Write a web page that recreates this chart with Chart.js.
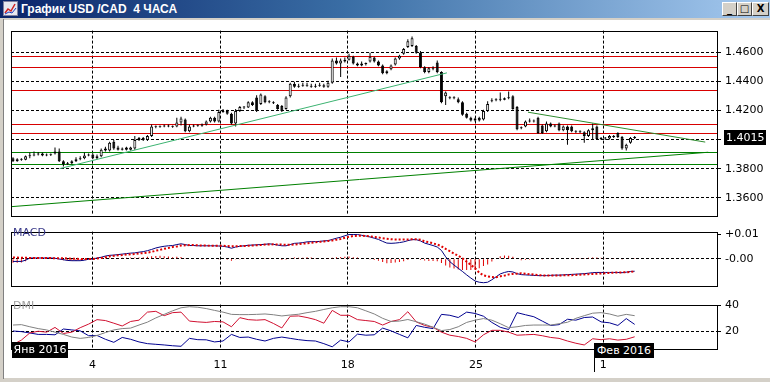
<!DOCTYPE html>
<html><head><meta charset="utf-8">
<script src="https://cdn.jsdelivr.net/npm/chart.js@4"></script>
<style>
body{margin:0;width:770px;height:382px;overflow:hidden;background:#d4d0c8;font-family:"DejaVu Sans",sans-serif;position:relative;}
#title{position:absolute;left:0;top:0;width:770px;height:18px;background:linear-gradient(90deg,#0a246a 0%,#3a6ea5 45%,#a6caf0 100%);}
#title .t{position:absolute;left:21px;top:2px;color:#fff;font:bold 12px "Liberation Sans",sans-serif;white-space:pre;line-height:14px;}
#title svg{position:absolute;left:3px;top:1px;}
.btn{position:absolute;top:2px;height:12px;background:#d4d0c8;border:1px solid;border-color:#fff #404040 #404040 #fff;font:bold 10px "DejaVu Sans",sans-serif;color:#000;text-align:center;line-height:12px;}
#area{position:absolute;left:4px;top:20px;width:766px;height:358px;background:#fff;}
#edge{position:absolute;left:3px;top:19px;width:1px;height:360px;background:#808080;}
canvas{position:absolute;left:0;}
.lab{position:absolute;font:11px "DejaVu Sans",sans-serif;white-space:pre;z-index:5;}
.box{position:absolute;background:#000;color:#fff;font:11px "DejaVu Sans",sans-serif;text-align:center;z-index:5;white-space:pre;}
</style></head>
<body>
<div id="title">
<svg width="15" height="15" viewBox="0 0 15 15"><rect x="0.5" y="0.5" width="14" height="14" fill="#e8e8f0" stroke="#8080a0"/><polyline points="2,12 5,8 8,10 12,3" fill="none" stroke="#d02020" stroke-width="1.5"/><polyline points="2,13 6,11 9,12 13,7" fill="none" stroke="#2040c0" stroke-width="1"/></svg>
<div class="t">График USD /CAD  4 ЧАСА</div>
<div class="btn" style="left:722px;width:13px;">_</div>
<div class="btn" style="left:737px;width:13px;">□</div>
<div class="btn" style="left:752px;width:15px;">X</div>
</div>
<div id="edge"></div>
<div id="area"></div>
<canvas id="c1" width="770" height="206" style="top:20px"></canvas>
<canvas id="c2" width="770" height="75" style="top:221px"></canvas>
<canvas id="c3" width="770" height="84" style="top:294px"></canvas>
<div class="lab" style="left:13px;top:226px;color:#3a3a8a;">MACD</div>
<div class="lab" style="left:13px;top:299px;color:#a0a0a0;">DMI</div>
<div class="box" style="left:12px;top:342px;width:56px;height:16px;line-height:16px;">Янв 2016</div>
<div class="box" style="left:594px;top:343px;width:60px;height:15px;line-height:15px;">Фев 2016</div>
<div style="position:absolute;left:594px;top:357px;width:1px;height:15px;background:#000;z-index:5;"></div>
<script>
// ---------- data ----------
const opens = [
1.3871,1.3851,1.3865,1.3862,1.3885,1.3891,1.3898,1.3905,1.3891,1.3898,
1.3905,1.3918,1.3851,1.3831,1.3838,1.3851,1.3865,1.3871,1.3891,1.3898,
1.3871,1.3885,1.3938,1.3925,1.3985,1.3945,1.3931,1.3945,1.3931,1.3938,
1.3998,1.4011,1.3998,1.4025,1.4091,1.4088,1.4091,1.4098,1.4091,1.4091,
1.4118,1.4138,1.4058,1.4091,1.4098,1.4095,1.4105,1.4125,1.4151,1.4125,
1.4191,1.4198,1.4178,1.4111,1.4198,1.4225,1.4222,1.4258,1.4291,1.4245,
1.4298,1.4265,1.4258,1.4238,1.4231,1.4211,1.4298,1.4385,1.4365,1.4371,
1.4375,1.4371,1.4365,1.4371,1.4375,1.4365,1.4391,1.4545,1.4525,1.4538,
1.4551,1.4571,1.4525,1.4511,1.4525,1.4538,1.4565,1.4538,1.4511,1.4458,
1.4485,1.4518,1.4558,1.4591,1.4638,1.4645,1.4645,1.4598,1.4498,1.4465,
1.4491,1.4531,1.4465,1.4298,1.4285,1.4285,1.4278,1.4258,1.4178,1.4151,
1.4131,1.4151,1.4138,1.4198,1.4265,1.4271,1.4278,1.4275,1.4285,1.4298,
1.4225,1.4078,1.4091,1.4125,1.4131,1.4151,1.4098,1.4058,1.4111,1.4091,
1.4111,1.4065,1.4091,1.4091,1.4058,1.4055,1.4051,1.4025,1.4065,1.4091,
1.4005,1.4011,1.4008,1.4025,1.4045,1.4018,1.3938,1.3978,1.4011];
const highs = [
1.3878,1.3871,1.3872,1.3891,1.3911,1.3918,1.3915,1.3911,1.3905,1.3905,
1.3945,1.3938,1.3858,1.3845,1.3858,1.3878,1.3885,1.3911,1.3905,1.3905,
1.3898,1.3938,1.3951,1.3985,1.3998,1.3958,1.3945,1.3951,1.3951,1.4025,
1.4018,1.4018,1.4031,1.4105,1.4098,1.4098,1.4105,1.4105,1.4098,1.4151,
1.4158,1.4145,1.4105,1.4105,1.4105,1.4111,1.4131,1.4158,1.4158,1.4205,
1.4211,1.4205,1.4185,1.4211,1.4231,1.4231,1.4265,1.4265,1.4305,1.4318,
1.4305,1.4271,1.4265,1.4245,1.4238,1.4298,1.4391,1.4398,1.4385,1.4391,
1.4391,1.4385,1.4385,1.4391,1.4385,1.4405,1.4558,1.4565,1.4558,1.4565,
1.4591,1.4578,1.4531,1.4538,1.4531,1.4598,1.4571,1.4545,1.4518,1.4478,
1.4518,1.4565,1.4585,1.4631,1.4691,1.4711,1.4651,1.4611,1.4505,1.4498,
1.4505,1.4545,1.4471,1.4331,1.4298,1.4298,1.4291,1.4265,1.4185,1.4158,
1.4151,1.4158,1.4205,1.4265,1.4285,1.4285,1.4325,1.4291,1.4331,1.4305,
1.4231,1.4091,1.4131,1.4145,1.4138,1.4158,1.4105,1.4125,1.4118,1.4105,
1.4118,1.4098,1.4098,1.4098,1.4065,1.4065,1.4058,1.4071,1.4111,1.4098,
1.4018,1.4018,1.4031,1.4031,1.4051,1.4025,1.3971,1.4018,1.4025];
const lows = [
1.3845,1.3848,1.3855,1.3858,1.3871,1.3885,1.3891,1.3885,1.3885,1.3888,
1.3898,1.3845,1.3815,1.3825,1.3831,1.3845,1.3858,1.3865,1.3885,1.3865,
1.3865,1.3878,1.3918,1.3918,1.3931,1.3925,1.3925,1.3925,1.3925,1.3931,
1.3991,1.3991,1.3991,1.4018,1.4078,1.4081,1.4085,1.4085,1.4081,1.4085,
1.4098,1.4051,1.4051,1.4085,1.4088,1.4088,1.4098,1.4118,1.4118,1.4118,
1.4185,1.4171,1.4105,1.4091,1.4191,1.4211,1.4218,1.4231,1.4191,1.4238,
1.4251,1.4251,1.4245,1.4205,1.4191,1.4205,1.4291,1.4358,1.4358,1.4365,
1.4365,1.4358,1.4358,1.4365,1.4358,1.4358,1.4385,1.4518,1.4431,1.4531,
1.4545,1.4518,1.4505,1.4505,1.4511,1.4531,1.4531,1.4505,1.4451,1.4451,
1.4478,1.4511,1.4551,1.4585,1.4631,1.4638,1.4591,1.4491,1.4458,1.4458,
1.4478,1.4458,1.4251,1.4238,1.4278,1.4278,1.4251,1.4165,1.4145,1.4125,
1.4125,1.4125,1.4131,1.4191,1.4258,1.4265,1.4265,1.4271,1.4278,1.4205,
1.4065,1.4071,1.4085,1.4118,1.4118,1.4038,1.4038,1.4051,1.4085,1.4085,
1.4058,1.4058,1.3965,1.4051,1.4045,1.4045,1.3978,1.4018,1.3998,1.3998,
1.3998,1.3998,1.4001,1.4011,1.4011,1.3931,1.3925,1.3971,1.4005];
const closes = [
1.3851,1.3865,1.3862,1.3885,1.3891,1.3898,1.3905,1.3891,1.3898,1.3895,
1.3918,1.3851,1.3831,1.3838,1.3851,1.3865,1.3871,1.3891,1.3898,1.3871,
1.3885,1.3931,1.3925,1.3978,1.3938,1.3931,1.3938,1.3931,1.3945,1.3998,
1.4011,1.3998,1.4025,1.4091,1.4088,1.4091,1.4098,1.4091,1.4088,1.4118,
1.4145,1.4058,1.4091,1.4098,1.4095,1.4105,1.4125,1.4151,1.4125,1.4191,
1.4198,1.4178,1.4111,1.4198,1.4225,1.4222,1.4258,1.4238,1.4198,1.4311,
1.4258,1.4258,1.4251,1.4211,1.4198,1.4291,1.4385,1.4365,1.4371,1.4375,
1.4371,1.4365,1.4371,1.4375,1.4365,1.4391,1.4545,1.4525,1.4545,1.4551,
1.4578,1.4525,1.4511,1.4525,1.4521,1.4571,1.4538,1.4511,1.4458,1.4471,
1.4511,1.4558,1.4578,1.4625,1.4678,1.4698,1.4598,1.4498,1.4465,1.4491,
1.4488,1.4465,1.4258,1.4325,1.4285,1.4288,1.4258,1.4171,1.4151,1.4131,
1.4145,1.4131,1.4198,1.4245,1.4271,1.4278,1.4275,1.4285,1.4291,1.4211,
1.4071,1.4085,1.4125,1.4131,1.4125,1.4045,1.4045,1.4111,1.4091,1.4098,
1.4065,1.4091,1.4065,1.4058,1.4055,1.4051,1.4025,1.4065,1.4078,1.4005,
1.4011,1.4008,1.4025,1.4018,1.4018,1.3938,1.3965,1.4011,1.4015];

const weekPos = [18.9, 49.4, 79.7, 110.2, 140.5];   // bar position of each Monday
const weekLabels = ['4', '11', '18', '25', '1'];
const priceTicks = [1.36, 1.38, 1.40, 1.42, 1.44, 1.46];
const redLevels = [1.4578, 1.4500, 1.4345, 1.4111, 1.4049];
const greenLevels = [1.3916, 1.3833];
const trendLong = [[-0.5, 1.3538], [165.5, 1.3913]];
const trendUp = [[11.1, 1.3800], [103.3, 1.4460]];
const trendDown = [[122.6, 1.4189], [164.8, 1.3983]];

const macdMain = [
-0.0011,-0.0011,-0.0011,-0.0006,0.0003,0.0003,0.0003,0.0003,0.0003,0.0003,
0.0002,-0.0001,-0.0004,-0.0007,-0.0008,-0.0008,-0.0008,-0.0006,-0.0002,-0.0001,
0.0003,0.0006,0.0011,0.0014,0.0015,0.0017,0.0019,0.0021,0.0023,0.0024,
0.0027,0.0029,0.0033,0.0038,0.0044,0.0048,0.0051,0.0053,0.0054,0.0058,
0.0061,0.0058,0.0054,0.0054,0.0053,0.0053,0.0053,0.0053,0.0053,0.0052,
0.0051,0.0048,0.0043,0.0048,0.0051,0.0053,0.0055,0.0056,0.0057,0.0058,
0.0059,0.0061,0.0059,0.0056,0.0053,0.0053,0.0058,0.0063,0.0064,0.0066,
0.0069,0.0070,0.0070,0.0071,0.0073,0.0074,0.0079,0.0084,0.0088,0.0094,
0.0099,0.0099,0.0099,0.0096,0.0093,0.0089,0.0084,0.0079,0.0071,0.0064,
0.0063,0.0064,0.0066,0.0069,0.0074,0.0078,0.0078,0.0073,0.0064,0.0059,
0.0054,0.0048,0.0034,0.0008,-0.0012,-0.0026,-0.0039,-0.0052,-0.0066,-0.0079,
-0.0091,-0.0096,-0.0098,-0.0096,-0.0086,-0.0074,-0.0062,-0.0056,-0.0052,-0.0054,
-0.0061,-0.0065,-0.0066,-0.0067,-0.0068,-0.0069,-0.0069,-0.0069,-0.0068,-0.0067,
-0.0067,-0.0066,-0.0065,-0.0064,-0.0063,-0.0062,-0.0061,-0.0059,-0.0057,-0.0056,
-0.0056,-0.0056,-0.0056,-0.0056,-0.0056,-0.0057,-0.0055,-0.0052,-0.0051];
const macdSignal = [
0.0005,0.0005,0.0004,0.0004,0.0003,0.0003,0.0003,0.0003,0.0003,0.0003,
0.0002,0.0002,0.0002,0.0001,0.0000,0.0000,-0.0001,-0.0001,-0.0001,-0.0001,
0.0001,0.0003,0.0006,0.0010,0.0012,0.0014,0.0015,0.0017,0.0018,0.0019,
0.0022,0.0023,0.0025,0.0028,0.0033,0.0036,0.0041,0.0044,0.0048,0.0050,
0.0054,0.0055,0.0056,0.0056,0.0055,0.0054,0.0054,0.0053,0.0053,0.0053,
0.0053,0.0052,0.0051,0.0051,0.0052,0.0052,0.0053,0.0054,0.0055,0.0056,
0.0058,0.0058,0.0059,0.0058,0.0058,0.0057,0.0057,0.0058,0.0060,0.0062,
0.0063,0.0065,0.0067,0.0069,0.0071,0.0073,0.0075,0.0078,0.0081,0.0086,
0.0090,0.0093,0.0094,0.0094,0.0093,0.0092,0.0089,0.0087,0.0084,0.0082,
0.0080,0.0079,0.0079,0.0079,0.0079,0.0080,0.0080,0.0078,0.0071,0.0068,
0.0063,0.0058,0.0051,0.0040,0.0031,0.0021,0.0012,0.0002,-0.0012,-0.0025,
-0.0039,-0.0057,-0.0068,-0.0072,-0.0075,-0.0076,-0.0072,-0.0069,-0.0064,-0.0062,
-0.0061,-0.0059,-0.0061,-0.0063,-0.0065,-0.0067,-0.0068,-0.0069,-0.0069,-0.0069,
-0.0069,-0.0068,-0.0067,-0.0067,-0.0066,-0.0065,-0.0064,-0.0063,-0.0062,-0.0061,
-0.0060,-0.0059,-0.0058,-0.0057,-0.0056,-0.0056,-0.0055,-0.0054,-0.0052];
const macdHist = [
-0.0016,-0.0016,-0.0015,-0.0010,0,0,0,0,0,0,
0,-0.0003,-0.0006,-0.0008,-0.0008,-0.0008,-0.0007,-0.0005,-0.0001,0,
0.0002,0.0003,0.0005,0.0004,0.0003,0.0003,0.0004,0.0004,0.0005,0.0005,
0.0005,0.0006,0.0008,0.0010,0.0011,0.0012,0.0010,0.0009,0.0006,0.0008,
0.0007,0.0003,-0.0002,-0.0002,-0.0002,-0.0001,-0.0001,0,0,-0.0001,
-0.0002,-0.0004,-0.0008,-0.0003,-0.0001,0.0001,0.0002,0.0002,0.0002,0.0002,
0.0001,0.0003,0,-0.0002,-0.0005,-0.0004,0.0001,0.0005,0.0004,0.0004,
0.0006,0.0005,0.0003,0.0002,0.0002,0.0001,0.0004,0.0006,0.0007,0.0008,
0.0009,0.0006,0.0005,0.0002,0,-0.0003,-0.0005,-0.0008,-0.0013,-0.0018,
-0.0017,-0.0015,-0.0013,-0.0010,-0.0005,-0.0002,-0.0002,-0.0005,-0.0007,-0.0009,
-0.0009,-0.0010,-0.0017,-0.0028,-0.0036,-0.0040,-0.0044,-0.0046,-0.0046,-0.0046,
-0.0045,-0.0039,-0.0030,-0.0024,-0.0011,-0.0002,0.0010,0.0013,0.0012,0.0008,
0,-0.0006,-0.0005,-0.0004,-0.0003,-0.0002,-0.0001,0,0.0001,0.0002,
0.0002,0.0002,0.0002,0.0003,0.0003,0.0003,0.0003,0.0004,0.0005,0.0005,
0.0004,0.0003,0.0002,0.0001,0,-0.0001,0,0.0002,0.0001];
const macdTicks = [0.01, 0];
const macdTickLabels = ['+0.01', '-0.00'];

// DMI, one reading every second bar
const dmiAdx = [
24.9,25.2,23.6,22.2,21.2,19.5,17.8,15.8,14.8,15.5,
17.0,19.2,21.2,22.2,22.6,24.9,27.1,30.3,33.0,35.7,
38.0,38.8,38.4,37.4,36.0,34.7,33.0,32.8,32.8,33.0,
33.3,32.7,31.8,32.5,33.1,34.3,35.3,36.7,38.0,38.8,
38.8,38.0,35.7,33.3,30.0,27.6,27.9,29.1,27.4,25.6,
23.2,20.7,21.5,23.6,26.9,28.6,29.8,28.6,25.9,22.9,
23.6,24.6,24.9,24.9,24.9,25.9,27.0,30.0,32.0,33.9,
34.3,33.3,31.6,33.0,32.0];
const dmiPlus = [
10.1,13.5,18.9,20.2,19.5,23.1,18.5,19.5,22.9,25.6,
29.0,28.3,26.3,24.2,27.6,28.6,34.7,35.3,32.0,34.3,
34.7,27.9,27.3,26.9,27.6,27.3,23.6,30.5,29.0,28.6,
29.0,26.1,22.7,31.6,31.8,30.6,29.0,26.3,36.0,32.3,
32.3,29.0,28.3,27.6,24.9,27.6,29.0,35.0,27.3,24.6,
23.2,19.5,17.2,16.2,14.8,12.1,17.5,20.9,20.9,19.5,
17.2,17.5,17.8,16.8,15.5,14.8,12.8,11.1,9.8,14.5,
13.8,14.5,13.5,14.1,16.0];
const dmiMinus = [
20.4,19.9,18.9,17.8,17.8,17.5,21.9,21.2,20.5,16.8,
17.0,14.1,11.8,15.5,14.1,12.1,10.8,10.3,9.8,9.2,
8.8,14.8,13.8,13.7,12.1,12.8,17.8,15.5,15.8,14.1,
12.8,14.8,15.8,14.8,13.8,13.1,12.8,10.8,8.4,13.5,
12.1,18.0,17.2,17.5,22.6,20.5,17.8,15.2,24.6,23.2,
22.2,33.0,32.3,30.6,34.7,33.7,31.6,26.9,23.2,21.5,
34.3,32.7,31.2,27.9,24.6,25.2,29.3,28.6,30.6,31.0,
27.3,26.6,24.6,29.8,25.4];
const dmiTicks = [40, 20];

// ---------- setup ----------
Chart.defaults.font.family = '"DejaVu Sans", sans-serif';
Chart.defaults.font.size = 11;
Chart.defaults.color = '#000';
const X_MIN = -0.476, X_MAX = 167.6;
const DASH = [3, 2];

const framePlugin = {
  id: 'frame',
  afterDatasetsDraw(chart) {
    const {ctx, chartArea: a} = chart;
    ctx.save();
    ctx.setLineDash([]);
    ctx.strokeStyle = '#000';
    ctx.lineWidth = 1;
    ctx.strokeRect(Math.round(a.left) + 0.5, Math.round(a.top) + 0.5,
                   Math.round(a.right - a.left), Math.round(a.bottom - a.top));
    ctx.restore();
  }
};
const levelsPlugin = {
  id: 'levels',
  beforeDatasetsDraw(chart) {
    const {ctx, chartArea: a, scales: {y}} = chart;
    ctx.save();
    ctx.lineWidth = 1;
    ctx.setLineDash([]);
    const draw = (v, c) => {
      const py = Math.round(y.getPixelForValue(v)) + 0.5;
      ctx.strokeStyle = c;
      ctx.beginPath(); ctx.moveTo(a.left, py); ctx.lineTo(a.right, py); ctx.stroke();
    };
    redLevels.forEach(v => draw(v, '#d80000'));
    greenLevels.forEach(v => draw(v, '#008000'));
    ctx.restore();
  }
};
const tagPlugin = {
  id: 'tag',
  afterDraw(chart) {
    const {ctx, chartArea: a, scales: {y}} = chart;
    const last = closes[closes.length - 1];
    const py = Math.round(y.getPixelForValue(last));
    ctx.save();
    ctx.fillStyle = '#000';
    ctx.fillRect(Math.round(a.right) + 7, py - 7, 42, 15);
    ctx.fillStyle = '#fff';
    ctx.font = '11px "DejaVu Sans"';
    ctx.textBaseline = 'middle';
    ctx.textAlign = 'left';
    ctx.fillText(last.toFixed(4), Math.round(a.right) + 9, py + 1);
    ctx.restore();
  }
};

const xScale = (extra) => Object.assign({
  type: 'linear', min: X_MIN, max: X_MAX, offset: false,
  afterBuildTicks: s => { s.ticks = weekPos.map(v => ({value: v})); },
  ticks: {display: false},
  grid: {color: '#000', drawTicks: false, lineWidth: 1, offset: false},
  border: {display: false, dash: DASH},
  afterFit: s => { s.height = 0; }
}, extra || {});

const idx = closes.map((_, i) => i);
const common = {
  responsive: false, animation: false, events: [],
  plugins: {legend: {display: false}, tooltip: {enabled: false}}
};
const line2 = pts => pts.map(p => ({x: p[0], y: p[1]}));

// ---------- main price chart ----------
new Chart(document.getElementById('c1'), {
  type: 'bar',
  data: {
    datasets: [
      {type: 'line', data: line2(trendUp), borderColor: '#3cb371', borderWidth: 1, pointRadius: 0, order: 0},
      {type: 'line', data: line2(trendDown), borderColor: '#2e8b2e', borderWidth: 1, pointRadius: 0, order: 0},
      {type: 'line', data: line2(trendLong), borderColor: '#008000', borderWidth: 1, pointRadius: 0, order: 0},
      {data: idx.map(i => ({x: i, y: [opens[i], closes[i]]})),
       backgroundColor: idx.map(i => closes[i] >= opens[i] ? '#fff' : '#000'),
       borderColor: '#000', borderWidth: 1, borderSkipped: false, inflateAmount: 0,
       barThickness: 3, grouped: false, minBarLength: 1, order: 1},
      {data: idx.map(i => ({x: i, y: [lows[i], highs[i]]})),
       backgroundColor: '#000', borderWidth: 0, inflateAmount: 0,
       barThickness: 1, grouped: false, order: 2}
    ]
  },
  options: Object.assign({}, common, {
    layout: {padding: {left: 11, top: 9, right: 0, bottom: 6}},
    scales: {
      x: xScale(),
      y: {position: 'right', min: 1.3478, max: 1.4751,
          afterBuildTicks: s => { s.ticks = priceTicks.map(v => ({value: v})); },
          ticks: {callback: v => v.toFixed(4), padding: 4},
          grid: {color: '#000', tickLength: 4, tickColor: '#000', tickBorderDash: []},
          border: {display: false, dash: DASH},
          afterFit: s => { s.width = 53; }}
    }
  }),
  plugins: [levelsPlugin, framePlugin, tagPlugin]
});

// ---------- MACD ----------
new Chart(document.getElementById('c2'), {
  type: 'bar',
  data: {
    datasets: [
      {type: 'line', data: idx.map(i => ({x: i, y: macdSignal[i]})), borderColor: '#e00000',
       borderWidth: 2, borderDash: [2, 2], pointRadius: 0, order: 0},
      {type: 'line', data: idx.map(i => ({x: i, y: macdMain[i]})), borderColor: '#000080',
       borderWidth: 1, pointRadius: 0, order: 1},
      {data: idx.map(i => ({x: i, y: macdHist[i]})), backgroundColor: '#e00000',
       barThickness: 1, grouped: false, inflateAmount: 0, order: 2}
    ]
  },
  options: Object.assign({}, common, {
    layout: {padding: {left: 11, top: 5, right: 0, bottom: 4}},
    scales: {
      x: xScale(),
      y: {position: 'right', min: -0.0109, max: 0.0111,
          afterBuildTicks: s => { s.ticks = macdTicks.map(v => ({value: v})); },
          ticks: {callback: (v, i) => macdTickLabels[i], padding: 4},
          grid: {color: c => c.tick && c.tick.value === 0 ? '#000' : 'rgba(0,0,0,0)',
                 tickLength: 4, tickColor: '#000', tickBorderDash: []},
          border: {display: false, dash: DASH},
          afterFit: s => { s.width = 53; }}
    }
  }),
  plugins: [framePlugin]
});

// ---------- DMI ----------
const dmiPts = arr => arr.map((v, k) => ({x: k * 2, y: v}));
new Chart(document.getElementById('c3'), {
  type: 'line',
  data: {
    datasets: [
      {data: dmiPts(dmiAdx), borderColor: '#808080', borderWidth: 1, pointRadius: 0},
      {data: dmiPts(dmiPlus), borderColor: '#d01030', borderWidth: 1, pointRadius: 0},
      {data: dmiPts(dmiMinus), borderColor: '#000090', borderWidth: 1, pointRadius: 0}
    ]
  },
  options: Object.assign({}, common, {
    layout: {padding: {left: 11, top: 5, right: 0, bottom: 5}},
    scales: {
      x: xScale({
        ticks: {display: true, padding: 10, maxRotation: 0, autoSkip: false,
                callback: (v, i) => weekLabels[i]},
        afterFit: s => { s.height = 24; }
      }),
      y: {position: 'right', min: 6.74, max: 40.4,
          afterBuildTicks: s => { s.ticks = dmiTicks.map(v => ({value: v})); },
          ticks: {callback: v => String(v), padding: 4},
          grid: {color: '#000', tickLength: 4, tickColor: '#000', tickBorderDash: []},
          border: {display: false, dash: DASH},
          afterFit: s => { s.width = 53; }}
    }
  }),
  plugins: [framePlugin]
});
</script>
</body></html>
